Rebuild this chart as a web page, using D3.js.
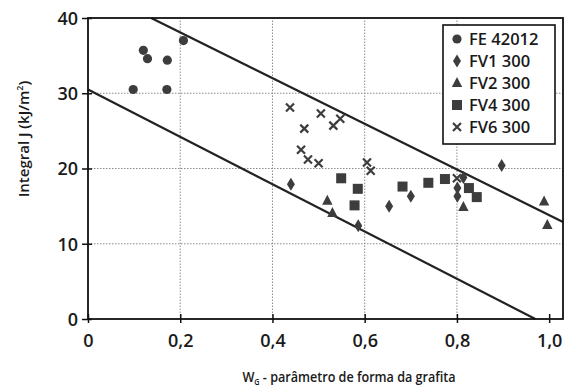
<!DOCTYPE html>
<html>
<head>
<meta charset="utf-8">
<script src="https://cdn.jsdelivr.net/npm/d3@7/dist/d3.min.js"></script>
<style>
  html, body { margin: 0; padding: 0; background: #fff; }
  svg { display: block; }
  text { font-family: "Open Sans", "Noto Sans", sans-serif; fill: #1a1a1a; }
</style>
</head>
<body>
<svg id="chart" width="578" height="390"></svg>
<script>
// Series: graphite shape parameter W_G vs J-integral
const seriesNames = ["FE 42012", "FV1 300", "FV2 300", "FV4 300", "FV6 300"];
const seriesShapes = ["circle", "diamond", "triangle", "square", "cross"];

const fe42012 = [[0.120, 35.7], [0.129, 34.6], [0.172, 34.4], [0.207, 37.0], [0.098, 30.5], [0.171, 30.5]];
const fv1300 = [[0.440, 17.9], [0.586, 12.4], [0.653, 15.0], [0.700, 16.3], [0.801, 17.4], [0.801, 16.3], [0.814, 18.8], [0.897, 20.4]];
const fv2300 = [[0.519, 15.7], [0.530, 14.1], [0.814, 14.9], [0.989, 15.6], [0.996, 12.5]];
const fv4300 = [[0.549, 18.7], [0.585, 17.3], [0.578, 15.1], [0.682, 17.6], [0.738, 18.1], [0.774, 18.6], [0.826, 17.4], [0.843, 16.2]];
const fv6300 = [[0.438, 28.1], [0.505, 27.3], [0.547, 26.6], [0.532, 25.7], [0.469, 25.3], [0.462, 22.5], [0.477, 21.2], [0.500, 20.7], [0.605, 20.8], [0.613, 19.7], [0.800, 18.7]];

// Scatter band limits
const upperBound = [[0.137, 40], [1.03, 12.9]];
const lowerBound = [[0, 30.5], [0.97, 0]];

const xTicks = [0, 0.2, 0.4, 0.6, 0.8, 1.0];
const yTicks = [0, 10, 20, 30, 40];

const seriesData = [fe42012, fv1300, fv2300, fv4300, fv6300];

const svg = d3.select("#chart");
const plotLeft = 88, plotRight = 563, plotTop = 18, plotBottom = 319;

const x = d3.scaleLinear().domain([0, 1.03]).range([plotLeft, plotRight]);
const y = d3.scaleLinear().domain([0, 40]).range([plotBottom, plotTop]);

const fmt = d => d === 0 ? "0" : d3.format(".1f")(d).replace(".", ",");

// Dotted grid
const grid = svg.append("g");
grid.selectAll("line.gx").data(xTicks.filter(d => d > 0 && d < 1)).join("line")
  .attr("x1", d => x(d)).attr("x2", d => x(d))
  .attr("y1", y(0)).attr("y2", y(40))
  .attr("stroke", "#8a8a8a").attr("stroke-width", 1).attr("stroke-dasharray", "1.5,1.5");
grid.selectAll("line.gy").data(yTicks.filter(d => d > 0 && d < 40)).join("line")
  .attr("x1", plotLeft).attr("x2", plotRight)
  .attr("y1", d => y(d)).attr("y2", d => y(d))
  .attr("stroke", "#8a8a8a").attr("stroke-width", 1).attr("stroke-dasharray", "1.5,1.5");

// Band lines
const line = d3.line().x(d => x(d[0])).y(d => y(d[1]));
svg.append("path").datum(upperBound).attr("d", line)
  .attr("fill", "none").attr("stroke", "#222").attr("stroke-width", 2.2);
svg.append("path").datum(lowerBound).attr("d", line)
  .attr("fill", "none").attr("stroke", "#222").attr("stroke-width", 2.2);

// Frame
svg.append("rect").attr("x", plotLeft).attr("y", y(40))
  .attr("width", plotRight - plotLeft).attr("height", y(0) - y(40))
  .attr("fill", "none").attr("stroke", "#111").attr("stroke-width", 1.8);

// Axes
const xAxis = d3.axisBottom(x).tickValues(xTicks).tickFormat(fmt).tickSize(5).tickSizeOuter(0);
const gx = svg.append("g").attr("transform", `translate(0,${plotBottom})`).call(xAxis);
gx.select(".domain").remove();
gx.selectAll("line").attr("stroke", "#111").attr("stroke-width", 1.5).attr("y1", -5).attr("y2", 4);
gx.selectAll("text").attr("dy", 0).attr("y", 28).attr("font-size", 18).attr("font-weight", 600)
  .attr("fill", "#1a1a1a").style("font-family", "'Open Sans', sans-serif");

const yAxis = d3.axisLeft(y).tickValues(yTicks).tickFormat(d3.format("d")).tickSize(5).tickSizeOuter(0);
const gy = svg.append("g").attr("transform", `translate(${plotLeft},0)`).call(yAxis);
gy.select(".domain").remove();
gy.selectAll("line").attr("stroke", "#111").attr("stroke-width", 1.5).attr("x1", 4).attr("x2", -6);
gy.selectAll("text").attr("x", -10).attr("dy", "0.35em").attr("font-size", 18).attr("font-weight", 600)
  .attr("fill", "#1a1a1a").style("font-family", "'Open Sans', sans-serif");

// Markers
const markColor = "#3d3d3d";
function drawMark(g, shape, cx, cy) {
  if (shape === "circle") {
    g.append("circle").attr("cx", cx).attr("cy", cy).attr("r", 4.6).attr("fill", markColor);
  } else if (shape === "diamond") {
    g.append("path").attr("d", `M${cx},${cy - 6.5}L${cx + 4},${cy}L${cx},${cy + 6.5}L${cx - 4},${cy}Z`).attr("fill", markColor);
  } else if (shape === "triangle") {
    g.append("path").attr("d", `M${cx},${cy - 6}L${cx + 5.2},${cy + 4}L${cx - 5.2},${cy + 4}Z`).attr("fill", markColor);
  } else if (shape === "square") {
    g.append("rect").attr("x", cx - 5).attr("y", cy - 5).attr("width", 10).attr("height", 10).attr("fill", markColor);
  } else if (shape === "cross") {
    const s = 4;
    g.append("path").attr("d", `M${cx - s},${cy - s}L${cx + s},${cy + s}M${cx - s},${cy + s}L${cx + s},${cy - s}`)
      .attr("stroke", markColor).attr("stroke-width", 2.2).attr("fill", "none");
  }
}

const marks = svg.append("g");
seriesData.forEach((data, i) => {
  const g = marks.append("g").attr("class", "series-" + i);
  data.forEach(d => drawMark(g, seriesShapes[i], x(d[0]), y(d[1])));
});

// Legend
const lg = svg.append("g");
lg.append("rect").attr("x", 443).attr("y", 25).attr("width", 112).attr("height", 119)
  .attr("fill", "#fff").attr("stroke", "#111").attr("stroke-width", 1.6);
seriesNames.forEach((name, i) => {
  const cy = 39 + i * 22;
  const g = lg.append("g");
  drawMark(g, seriesShapes[i], 457, cy);
  g.append("text").attr("x", 469).attr("y", cy).attr("dy", "0.36em")
    .attr("font-size", 16.5).attr("font-weight", 600).text(name);
});

// Axis titles
const xt = svg.append("text").attr("transform", "translate(349,382) scale(0.9,1)")
  .attr("text-anchor", "middle").attr("font-size", 14).attr("font-weight", 600);
xt.append("tspan").text("W");
xt.append("tspan").attr("font-size", 8).attr("dy", 3).text("G");
xt.append("tspan").attr("dy", -3).text(" - parâmetro de forma da grafita");

const yt = svg.append("text").attr("transform", "translate(29,139) rotate(-90)")
  .attr("text-anchor", "middle").attr("font-size", 15).attr("font-weight", 600);
yt.append("tspan").text("Integral J (kJ/m");
yt.append("tspan").attr("font-size", 9).attr("dy", -6).text("2");
yt.append("tspan").attr("dy", 6).text(")");
</script>
</body>
</html>
